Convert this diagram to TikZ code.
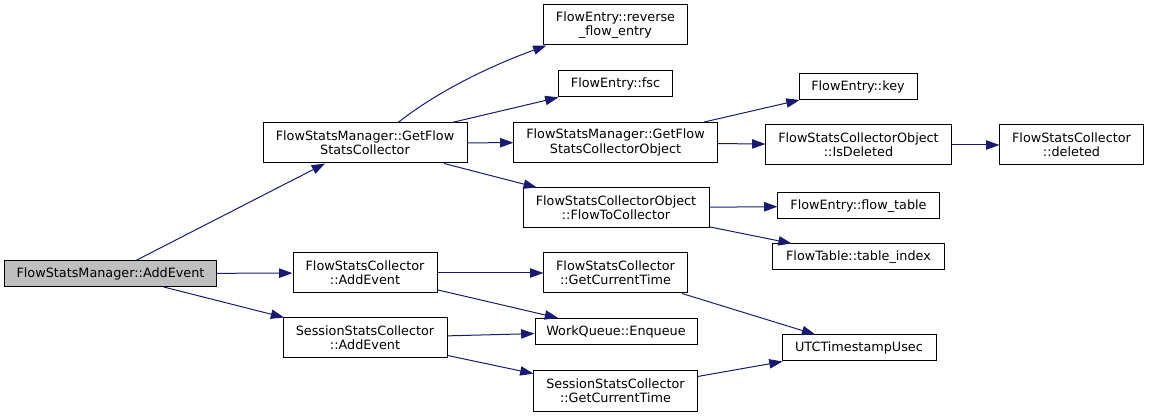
\documentclass[tikz,border=0pt]{standalone}
\usepackage{fontspec}
\setmainfont{DejaVu Sans}
\usetikzlibrary{arrows.meta,positioning}
\definecolor{callblue}{HTML}{191970}
\definecolor{rootgray}{HTML}{BFBFBF}
\tikzset{
  func/.style={draw=black,line width=.75pt,fill=white,align=center,inner sep=0pt,minimum height=19.5pt,font=\fontsize{9.6}{10.75}\selectfont},
  functwo/.style={func,minimum height=30pt},
  rootfunc/.style={func,fill=rootgray},
  call/.style={draw=callblue,-{Triangle[length=10pt,width=7pt]},line width=.75pt},
}

\begin{document}
\begin{tikzpicture}[x=0.75pt,y=-0.75pt]
			\useasboundingbox (0,0) rectangle (1149,416);
			\node[rootfunc,minimum width=158.3pt] (add) at (110.5,273.5) {FlowStatsManager::AddEvent};
			\node[functwo,minimum width=153pt] (getfsc) at (365,143) {FlowStatsManager::GetFlow\\StatsCollector};
			\node[functwo,minimum width=108pt] (fscadd) at (365,273) {FlowStatsCollector\\::AddEvent};
			\node[functwo,minimum width=123pt] (sscadd) at (365,338) {SessionStatsCollector\\::AddEvent};
			\node[functwo,minimum width=107.3pt] (rev) at (615.5,25) {FlowEntry::reverse\\\_flow\_entry};
			\node[func,minimum width=84.8pt] (fsc) at (615.5,84) {FlowEntry::fsc};
			\node[functwo,minimum width=152.3pt] (getobj) at (615.5,142.5) {FlowStatsManager::GetFlow\\StatsCollectorObject};
			\node[functwo,minimum width=139.5pt] (ftc) at (616,208) {FlowStatsCollectorObject\\::FlowToCollector};
			\node[functwo,minimum width=107.3pt] (fscgct) at (615.5,273) {FlowStatsCollector\\::GetCurrentTime};
			\node[func,minimum width=121.5pt] (enq) at (616,331.5) {WorkQueue::Enqueue};
			\node[functwo,minimum width=122.3pt] (sscgct) at (615.5,391) {SessionStatsCollector\\::GetCurrentTime};
			\node[func,minimum width=88.5pt] (key) at (858,86.5) {FlowEntry::key};
			\node[functwo,minimum width=138.8pt] (isdel) at (858.5,145) {FlowStatsCollectorObject\\::IsDeleted};
			\node[func,minimum width=120.8pt] (ftab) at (858.5,206) {FlowEntry::flow\_table};
			\node[func,minimum width=128.3pt] (tidx) at (858.5,257) {FlowTable::table\_index};
			\node[func,minimum width=115.5pt] (utc) at (859,348) {UTCTimestampUsec};
			\node[functwo,minimum width=107.3pt] (del) at (1071.5,145) {FlowStatsCollector\\::deleted};
			\draw[call] (add)--(getfsc);
			\draw[call] (add)--(fscadd);
			\draw[call] (add)--(sscadd);
			\draw[call] ([xshift=24.75pt]getfsc.north) .. controls +(38:45pt) and +(200:35pt) .. ([xshift=2.25pt]rev.south west);
			\draw[call] (getfsc)--(fsc);
			\draw[call] (getfsc)--(getobj);
			\draw[call] (getfsc)--(ftc);
			\draw[call] (getobj)--(key);
			\draw[call] (getobj)--(isdel);
			\draw[call] (isdel)--(del);
			\draw[call] (ftc)--(ftab);
			\draw[call] (ftc)--(tidx);
			\draw[call] (fscadd)--(fscgct);
			\draw[call] (fscadd)--(enq);
			\draw[call] (sscadd)--(enq);
			\draw[call] (sscadd)--(sscgct);
			\draw[call] (fscgct)--(utc);
			\draw[call] (sscgct)--(utc);
		\end{tikzpicture}
\end{document}
